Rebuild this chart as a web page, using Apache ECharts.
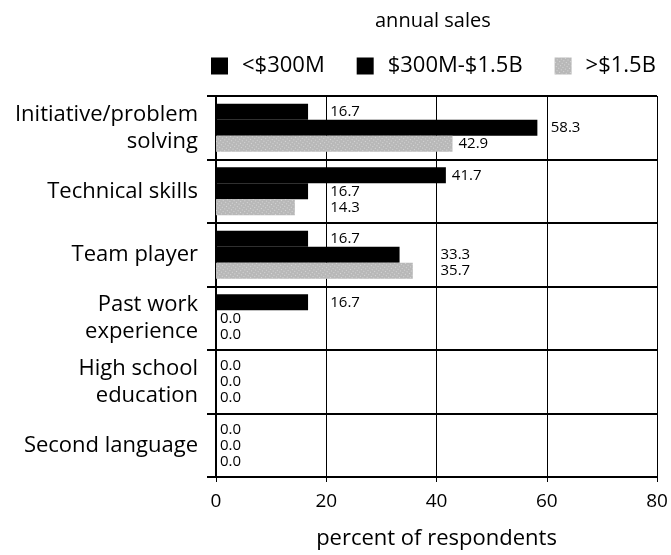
<!DOCTYPE html>
<html>
<head>
<meta charset="utf-8">
<script src="https://cdn.jsdelivr.net/npm/echarts@6/dist/echarts.min.js"></script>
<style>
  html, body { margin: 0; padding: 0; background: #fff; }
  #main { width: 671px; height: 555px; }
</style>
</head>
<body>
<div id="main"></div>
<script>
var categories = ['Initiative/problem\nsolving', 'Technical skills', 'Team player', 'Past work\nexperience', 'High school\neducation', 'Second language']
var seriesNames = ['<$300M', '$300M-$1.5B', '>$1.5B']
var small = [16.7, 41.7, 16.7, 16.7, 0.0, 0.0]
var mid = [58.3, 16.7, 33.3, 0.0, 0.0, 0.0]
var large = [42.9, 14.3, 35.7, 0.0, 0.0, 0.0]
var xTicks = [0, 20, 40, 60, 80]

var font = 'Open Sans'
var colors = ['#000000', '#000000', '#b8b8b8']

// grey series gets a speckled texture like the printed original
var greyDecal = {
  symbol: 'rect',
  symbolSize: 1,
  color: 'rgba(255,255,255,0.45)',
  dashArrayX: [1, 2],
  dashArrayY: [1, 2],
  rotation: 0.6
}

var series = [small, mid, large].map(function (vals, i) {
  return {
    name: seriesNames[i],
    type: 'bar',
    data: vals,
    barWidth: 16,
    barGap: '0%',
    itemStyle: i === 2 ? { color: colors[i], decal: greyDecal } : { color: colors[i] },
    label: {
      show: true,
      position: 'right',
      distance: 6,
      color: '#000',
      fontFamily: font,
      fontSize: 15,
      formatter: function (p) { return p.value.toFixed(1) }
    }
  }
})

var option = {
  animation: false,
  backgroundColor: '#fff',
  title: {
    text: 'annual sales',
    left: 370,
    top: 6,
    textStyle: { fontFamily: font, fontSize: 20, fontWeight: 'normal', color: '#000' }
  },
  legend: {
    data: seriesNames,
    left: 206,
    top: 50,
    icon: 'rect',
    itemWidth: 17,
    itemHeight: 17,
    itemGap: 32,
    textStyle: { fontFamily: font, fontSize: 22, color: '#000', padding: [0, 0, 0, 9] }
  },
  grid: { left: 216, right: 14, top: 96, bottom: 76 },
  xAxis: {
    type: 'value',
    min: 0,
    max: 80,
    interval: 20,
    name: 'percent of respondents',
    nameLocation: 'middle',
    nameGap: 51,
    nameTextStyle: { fontFamily: font, fontSize: 22, color: '#000' },
    axisLine: { show: true, lineStyle: { color: '#000', width: 2 } },
    axisTick: { show: true, length: 5, lineStyle: { color: '#000' } },
    axisLabel: {
      fontFamily: font, fontSize: 19, color: '#000', margin: 15,
      formatter: function (v) { return xTicks.indexOf(v) >= 0 ? String(v) : '' }
    },
    splitLine: { show: true, lineStyle: { color: '#000', width: 1 } }
  },
  yAxis: {
    type: 'category',
    inverse: true,
    data: categories,
    axisLine: { show: true, lineStyle: { color: '#000', width: 2 } },
    axisTick: { show: true, length: 9, lineStyle: { color: '#000', width: 2 } },
    axisLabel: { fontFamily: font, fontSize: 22, color: '#000', margin: 18, lineHeight: 27 },
    splitLine: { show: true, lineStyle: { color: '#000', width: 2 } }
  },
  series: series
}

var myChart = echarts.init(document.getElementById('main'))
myChart.setOption(option)

// like the original, a value label that would sit on a grid line is pushed just past it
var labelWidth = 40
var updated = [small, mid, large].map(function (vals) {
  return {
    data: vals.map(function (v) {
      var end = myChart.convertToPixel({ xAxisIndex: 0 }, v)
      var line = myChart.convertToPixel({ xAxisIndex: 0 }, Math.ceil(v / 20) * 20)
      var gap = line - end
      var d = (v > 0 && gap < labelWidth) ? gap + 4 : (v > 0 ? 6 : 4)
      return { value: v, label: { distance: d } }
    })
  }
})
myChart.setOption({ series: updated })
</script>
</body>
</html>
